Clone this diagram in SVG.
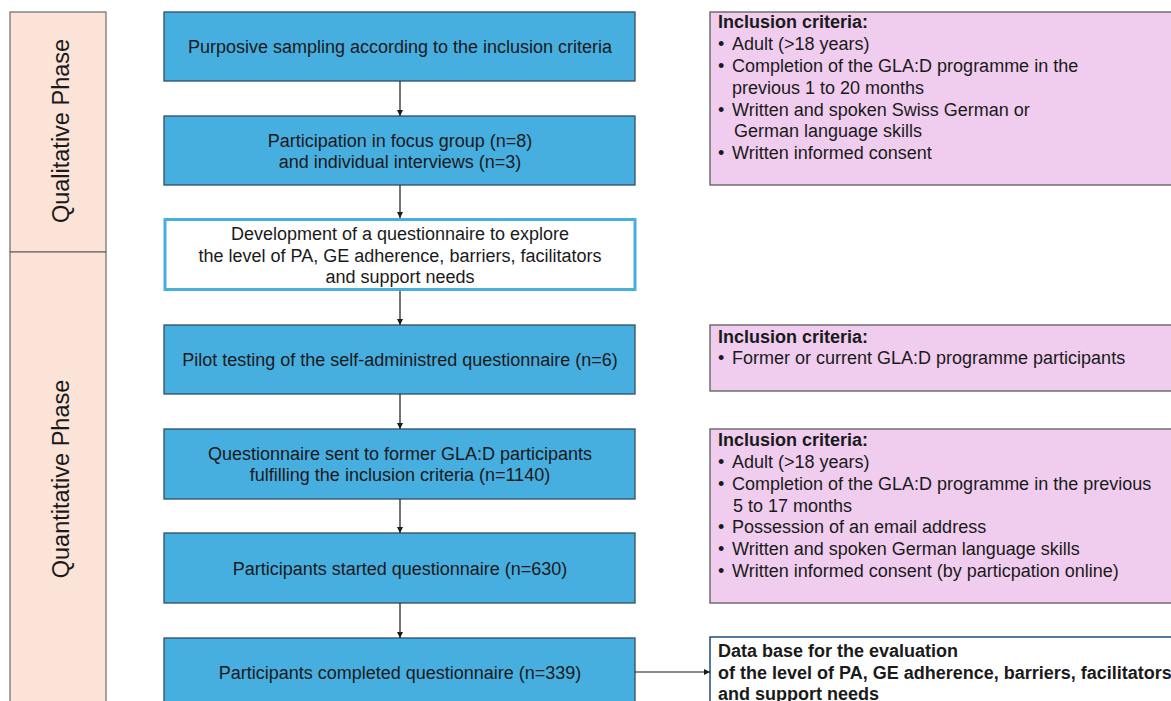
<svg xmlns="http://www.w3.org/2000/svg" width="1171" height="701" viewBox="0 0 1171 701">
<style>
text{font-family:"Liberation Sans",Arial,sans-serif;fill:#1a1a1a}
.phase{fill:#fbe3d8;stroke:#6b6b6b;stroke-width:1.2}
.blue{fill:#47aee0;stroke:#2f4d66;stroke-width:1.3}
.pink{fill:#f0cdee;stroke:#5a5a5a;stroke-width:1.3}
.bt{font-size:18px;text-anchor:middle}
.rt{font-size:18px}
.b{font-weight:bold}
.ph{font-size:23.5px;text-anchor:middle}
.conn{stroke:#1a1a1a;stroke-width:1.2;fill:none}
</style>
<defs>
<marker id="ah" viewBox="0 0 10 10" refX="10" refY="5" markerWidth="6" markerHeight="6" orient="auto" markerUnits="userSpaceOnUse">
<path d="M0,0 L10,5 L0,10 z" fill="#1a1a1a"/>
</marker>
</defs>
<rect width="1171" height="701" fill="#ffffff"/>
<g id="phase-qual">
<rect class="phase" x="10" y="12" width="96" height="240"/>
<text class="ph" transform="translate(69,131) rotate(-90)">Qualitative Phase</text>
</g>
<g id="phase-quant">
<rect class="phase" x="10" y="252" width="96" height="460"/>
<text class="ph" transform="translate(69,479) rotate(-90)">Quantitative Phase</text>
</g>
<g id="n1">
<rect class="blue" x="164" y="12" width="471" height="69"/>
<text class="bt" x="400" y="53">Purposive sampling according to the inclusion criteria</text>
</g>
<g id="n2">
<rect class="blue" x="164" y="116" width="471" height="69"/>
<text class="bt" x="400" y="147">Participation in focus group (n=8)</text>
<text class="bt" x="400" y="168">and individual interviews (n=3)</text>
</g>
<g id="n3">
<rect x="165" y="219.5" width="470" height="70" fill="#ffffff" stroke="#47aee0" stroke-width="3"/>
<text class="bt" x="400" y="240">Development of a questionnaire to explore</text>
<text class="bt" x="400" y="262">the level of PA, GE adherence, barriers, facilitators</text>
<text class="bt" x="400" y="283">and support needs</text>
</g>
<g id="n4">
<rect class="blue" x="164" y="325" width="471" height="69"/>
<text class="bt" x="400" y="366">Pilot testing of the self-administred questionnaire (n=6)</text>
</g>
<g id="n5">
<rect class="blue" x="164" y="429" width="471" height="70"/>
<text class="bt" x="400" y="460">Questionnaire sent to former GLA:D participants</text>
<text class="bt" x="400" y="481">fulfilling the inclusion criteria (n=1140)</text>
</g>
<g id="n6">
<rect class="blue" x="164" y="533" width="471" height="70"/>
<text class="bt" x="400" y="575">Participants started questionnaire (n=630)</text>
</g>
<g id="n7">
<rect class="blue" x="164" y="638" width="471" height="80"/>
<text class="bt" x="400" y="679">Participants completed questionnaire (n=339)</text>
</g>
<g id="c1">
<rect class="pink" x="710" y="12" width="470" height="173"/>
<text class="rt b" x="718" y="28">Inclusion criteria:</text>
<text class="rt" x="718" y="50">•</text><text class="rt" x="732" y="50">Adult (&gt;18 years)</text>
<text class="rt" x="718" y="72">•</text><text class="rt" x="732" y="72">Completion of the GLA:D programme in the</text>
<text class="rt" x="732" y="94">previous 1 to 20 months</text>
<text class="rt" x="718" y="116">•</text><text class="rt" x="732" y="116">Written and spoken Swiss German or</text>
<text class="rt" x="734" y="137">German language skills</text>
<text class="rt" x="718" y="159">•</text><text class="rt" x="732" y="159">Written informed consent</text>
</g>
<g id="c2">
<rect class="pink" x="710" y="325" width="470" height="66"/>
<text class="rt b" x="718" y="343">Inclusion criteria:</text>
<text class="rt" x="718" y="364">•</text><text class="rt" x="732" y="364">Former or current GLA:D  programme participants</text>
</g>
<g id="c3">
<rect class="pink" x="710" y="429" width="470" height="174"/>
<text class="rt b" x="718" y="446">Inclusion criteria:</text>
<text class="rt" x="718" y="468">•</text><text class="rt" x="732" y="468">Adult (&gt;18 years)</text>
<text class="rt" x="718" y="490">•</text><text class="rt" x="732" y="490">Completion of the GLA:D programme in the previous</text>
<text class="rt" x="733" y="512">5 to 17 months</text>
<text class="rt" x="718" y="533">•</text><text class="rt" x="732" y="533">Possession of an email address</text>
<text class="rt" x="718" y="555">•</text><text class="rt" x="732" y="555">Written and spoken German language skills</text>
<text class="rt" x="718" y="577">•</text><text class="rt" x="732" y="577">Written informed consent (by particpation online)</text>
</g>
<g id="d1">
<rect x="710" y="637" width="470" height="80" fill="#ffffff" stroke="#1f4e79" stroke-width="1.5"/>
<text class="rt b" x="718" y="657">Data base for the evaluation</text>
<text class="rt b" x="718" y="679">of the level of PA, GE adherence, barriers, facilitators</text>
<text class="rt b" x="718" y="700">and support needs</text>
</g>
<g id="connectors">
<line class="conn" x1="400" y1="81" x2="400" y2="116" marker-end="url(#ah)"/>
<line class="conn" x1="400" y1="185" x2="400" y2="218" marker-end="url(#ah)"/>
<line class="conn" x1="400" y1="291" x2="400" y2="325" marker-end="url(#ah)"/>
<line class="conn" x1="400" y1="394" x2="400" y2="429" marker-end="url(#ah)"/>
<line class="conn" x1="400" y1="499" x2="400" y2="533" marker-end="url(#ah)"/>
<line class="conn" x1="400" y1="603" x2="400" y2="638" marker-end="url(#ah)"/>
<line class="conn" x1="635" y1="672" x2="710" y2="672" marker-end="url(#ah)"/>
</g>
</svg>
